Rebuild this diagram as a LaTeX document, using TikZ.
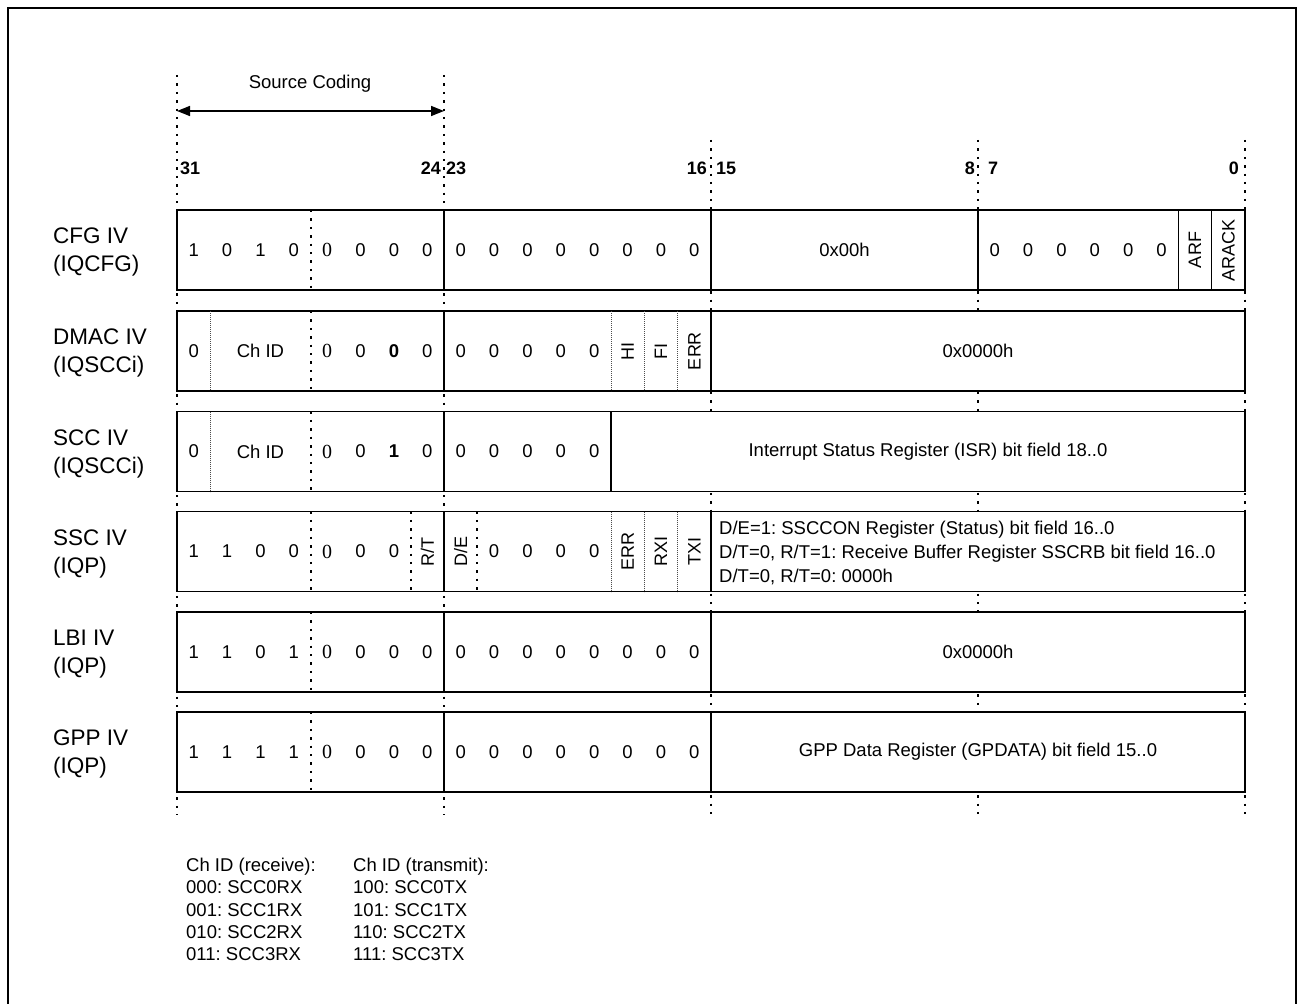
\documentclass[tikz,border=0pt]{standalone}
\usepackage{fontspec}
\setmainfont{Liberation Sans}
\newfontfamily\serifface{Liberation Serif}
\usetikzlibrary{arrows.meta}
\newcommand\bxc[1]{193.6875+(31-#1)*33.375}% centre of bit #1
\newcommand\bxb[1]{177+(32-#1)*33.375}% boundary right of bit #1
\frenchspacing
\begin{document}
\begin{tikzpicture}[x=1pt,y=-1pt,
  frame/.style={line width=2pt},
  rowbox/.style={line width=1.4pt, fill=white},
  sepline/.style={line width=1.4pt},
  bigdot/.style={line width=2pt, dash pattern=on 2.4pt off 6pt},
  thindot/.style={line width=0.6pt, dash pattern=on 0.8pt off 1.2pt, black!70},
  dig/.style={font=\fontsize{18.5}{22}\selectfont, inner sep=0pt},
  sdig/.style={font=\serifface\fontsize{20}{22}\selectfont, inner sep=0pt},
  bdig/.style={font=\bfseries\fontsize{18.5}{22}\selectfont, inner sep=0pt},
  rot/.style={font=\fontsize{18}{22}\selectfont, inner sep=0pt, rotate=90},
  body/.style={font=\fontsize{18.5}{22}\selectfont, inner sep=0pt},
  multi/.style={font=\fontsize{18.5}{24}\selectfont, inner sep=0pt, align=left, anchor=west},
  rowlbl/.style={font=\fontsize{22.5}{28}\selectfont, inner sep=0pt, align=left, anchor=west},
  bitnum/.style={font=\bfseries\fontsize{18}{22}\selectfont, inner sep=0pt},
  legend/.style={font=\fontsize{18.5}{22.3}\selectfont, inner sep=0pt, align=left, anchor=north west},
  dimarrow/.style={line width=1.5pt, {Triangle[length=13pt,width=10pt]}-{Triangle[length=13pt,width=10pt]}}
]
\useasboundingbox (0,0) rectangle (1297,1003);
\draw[frame] (8,1010) -- (8,8) -- (1296,8) -- (1296,1010);

% long dotted guide lines
\draw[bigdot] (177,75) -- (177,815);
\draw[bigdot] (444,75) -- (444,815);
\foreach \x in {711,978,1245} \draw[bigdot] (\x,140) -- (\x,815);

% source coding arrow
\coordinate (scl) at (177,111);
\coordinate (scr) at (444,111);
\draw[dimarrow] (scl) -- (scr);
\node[body] (sctext) at (310,84) {Source Coding};

% bit numbers
\node[bitnum, anchor=west] (n31) at (180,168) {31};
\node[bitnum, anchor=east] (n24) at (441,168) {24};
\node[bitnum, anchor=west] (n23) at (446,168) {23};
\node[bitnum, anchor=east] (n16) at (707,168) {16};
\node[bitnum, anchor=west] (n15) at (716,168) {15};
\node[bitnum, anchor=east] (n8) at (975,168) {8};
\node[bitnum, anchor=west] (n7) at (988,168) {7};
\node[bitnum, anchor=east] (n0) at (1239,168) {0};

% ================= CFG IV =================
\def\yc{250}
\draw[rowbox] (177,\yc-40) rectangle (1245,\yc+40);
\node[rowlbl] (lcfg) at (53,\yc+2) {CFG IV\\(IQCFG)};
\draw[bigdot] ({\bxb{28}},\yc-40) -- ({\bxb{28}},\yc+40);
\foreach \x in {444,711,978} \draw[sepline] (\x,\yc-40) -- (\x,\yc+40);
\draw[sepline] ({\bxb{2}},\yc-40) -- ({\bxb{2}},\yc+40);
\draw[sepline] ({\bxb{1}},\yc-40) -- ({\bxb{1}},\yc+40);
\foreach \b/\v in {31/1,30/0,29/1,28/0,26/0,25/0,24/0}
  \node[dig] (cfg-\b) at ({\bxc{\b}},\yc) {\v};
\node[sdig] (cfg-27) at ({\bxc{27}},\yc) {0};
\foreach \b in {23,...,16,7,6,5,4,3,2}
  \node[dig] (cfg-\b) at ({\bxc{\b}},\yc) {0};
\node[body] (cfg-mid) at (844.5,\yc) {0x00h};
\node[rot] (cfg-arf) at ({\bxc{1}},\yc) {ARF};
\node[rot] (cfg-arack) at ({\bxc{0}},\yc) {ARACK};

% ================= DMAC IV =================
\def\yc{351}
\draw[rowbox] (177,\yc-40) rectangle (1245,\yc+40);
\node[rowlbl] (ldmac) at (53,\yc+2) {DMAC IV\\(IQSCCi)};
\draw[thindot] ({\bxb{31}},\yc-40) -- ({\bxb{31}},\yc+40);
\draw[bigdot] ({\bxb{28}},\yc-40) -- ({\bxb{28}},\yc+40);
\foreach \x in {444,711} \draw[sepline] (\x,\yc-40) -- (\x,\yc+40);
\foreach \b in {19,18,17} \draw[thindot] ({\bxb{\b}},\yc-40) -- ({\bxb{\b}},\yc+40);
\node[dig] (dm-31) at ({\bxc{31}},\yc) {0};
\node[body] (dm-ch) at (260.4,\yc) {Ch ID};
\node[sdig] (dm-27) at ({\bxc{27}},\yc) {0};
\node[dig] (dm-26) at ({\bxc{26}},\yc) {0};
\node[bdig] (dm-25) at ({\bxc{25}},\yc) {0};
\node[dig] (dm-24) at ({\bxc{24}},\yc) {0};
\foreach \b in {23,...,19} \node[dig] (dm-\b) at ({\bxc{\b}},\yc) {0};
\node[rot] (dm-hi) at ({\bxc{18}},\yc) {HI};
\node[rot] (dm-fi) at ({\bxc{17}},\yc) {FI};
\node[rot] (dm-err) at ({\bxc{16}},\yc) {ERR};
\node[body] (dm-low) at (978,\yc) {0x0000h};

% ================= SCC IV =================
\def\yc{451.5}
\draw[rowbox] (177,\yc-40) rectangle (1245,\yc+40);
\node[rowlbl] (lscc) at (53,\yc+2) {SCC IV\\(IQSCCi)};
\draw[thindot] ({\bxb{31}},\yc-40) -- ({\bxb{31}},\yc+40);
\draw[bigdot] ({\bxb{28}},\yc-40) -- ({\bxb{28}},\yc+40);
\draw[sepline] (444,\yc-40) -- (444,\yc+40);
\draw[sepline] ({\bxb{19}},\yc-40) -- ({\bxb{19}},\yc+40);
\node[dig] (sc-31) at ({\bxc{31}},\yc) {0};
\node[body] (sc-ch) at (260.4,\yc) {Ch ID};
\node[sdig] (sc-27) at ({\bxc{27}},\yc) {0};
\node[dig] (sc-26) at ({\bxc{26}},\yc) {0};
\node[bdig] (sc-25) at ({\bxc{25}},\yc) {1};
\node[dig] (sc-24) at ({\bxc{24}},\yc) {0};
\foreach \b in {23,...,19} \node[dig] (sc-\b) at ({\bxc{\b}},\yc) {0};
\node[body] (sc-isr) at (928,\yc) {Interrupt Status Register (ISR) bit field 18..0};

% ================= SSC IV =================
\def\yc{551.5}
\draw[rowbox] (177,\yc-40) rectangle (1245,\yc+40);
\node[rowlbl] (lssc) at (53,\yc+2) {SSC IV\\(IQP)};
\draw[bigdot] ({\bxb{28}},\yc-40) -- ({\bxb{28}},\yc+40);
\draw[bigdot] ({\bxb{25}},\yc-40) -- ({\bxb{25}},\yc+40);
\draw[bigdot] ({\bxb{23}},\yc-40) -- ({\bxb{23}},\yc+40);
\foreach \x in {444,711} \draw[sepline] (\x,\yc-40) -- (\x,\yc+40);
\foreach \b in {19,18,17} \draw[thindot] ({\bxb{\b}},\yc-40) -- ({\bxb{\b}},\yc+40);
\foreach \b/\v in {31/1,30/1,29/0,28/0,26/0,25/0,22/0,21/0,20/0,19/0}
  \node[dig] (ss-\b) at ({\bxc{\b}},\yc) {\v};
\node[sdig] (ss-27) at ({\bxc{27}},\yc) {0};
\node[rot] (ss-rt) at ({\bxc{24}},\yc) {R/T};
\node[rot] (ss-de) at ({\bxc{23}},\yc) {D/E};
\node[rot] (ss-err) at ({\bxc{18}},\yc) {ERR};
\node[rot] (ss-rxi) at ({\bxc{17}},\yc) {RXI};
\node[rot] (ss-txi) at ({\bxc{16}},\yc) {TXI};
\node[multi] (ss-txt) at (719,\yc+1) {D/E=1: SSCCON Register (Status) bit field 16..0\\D/T=0, R/T=1: Receive Buffer Register SSCRB bit field 16..0\\D/T=0, R/T=0: 0000h};

% ================= LBI IV =================
\def\yc{652}
\draw[rowbox] (177,\yc-40) rectangle (1245,\yc+40);
\node[rowlbl] (llbi) at (53,\yc+2) {LBI IV\\(IQP)};
\draw[bigdot] ({\bxb{28}},\yc-40) -- ({\bxb{28}},\yc+40);
\foreach \x in {444,711} \draw[sepline] (\x,\yc-40) -- (\x,\yc+40);
\foreach \b/\v in {31/1,30/1,29/0,28/1,26/0,25/0,24/0}
  \node[dig] (lb-\b) at ({\bxc{\b}},\yc) {\v};
\node[sdig] (lb-27) at ({\bxc{27}},\yc) {0};
\foreach \b in {23,...,16} \node[dig] (lb-\b) at ({\bxc{\b}},\yc) {0};
\node[body] (lb-low) at (978,\yc) {0x0000h};

% ================= GPP IV =================
\def\yc{752}
\draw[rowbox] (177,\yc-40) rectangle (1245,\yc+40);
\node[rowlbl] (lgpp) at (53,\yc+2) {GPP IV\\(IQP)};
\draw[bigdot] ({\bxb{28}},\yc-40) -- ({\bxb{28}},\yc+40);
\foreach \x in {444,711} \draw[sepline] (\x,\yc-40) -- (\x,\yc+40);
\foreach \b/\v in {31/1,30/1,29/1,28/1,26/0,25/0,24/0}
  \node[dig] (gp-\b) at ({\bxc{\b}},\yc) {\v};
\node[sdig] (gp-27) at ({\bxc{27}},\yc) {0};
\foreach \b in {23,...,16} \node[dig] (gp-\b) at ({\bxc{\b}},\yc) {0};
\node[body] (gp-low) at (978,\yc) {GPP Data Register (GPDATA) bit field 15..0};

% legend
\node[legend] (leg1) at (186,858) {Ch ID (receive):\\000: SCC0RX\\001: SCC1RX\\010: SCC2RX\\011: SCC3RX};
\node[legend] (leg2) at (353,858) {Ch ID (transmit):\\100: SCC0TX\\101: SCC1TX\\110: SCC2TX\\111: SCC3TX};
\end{tikzpicture}
\end{document}
